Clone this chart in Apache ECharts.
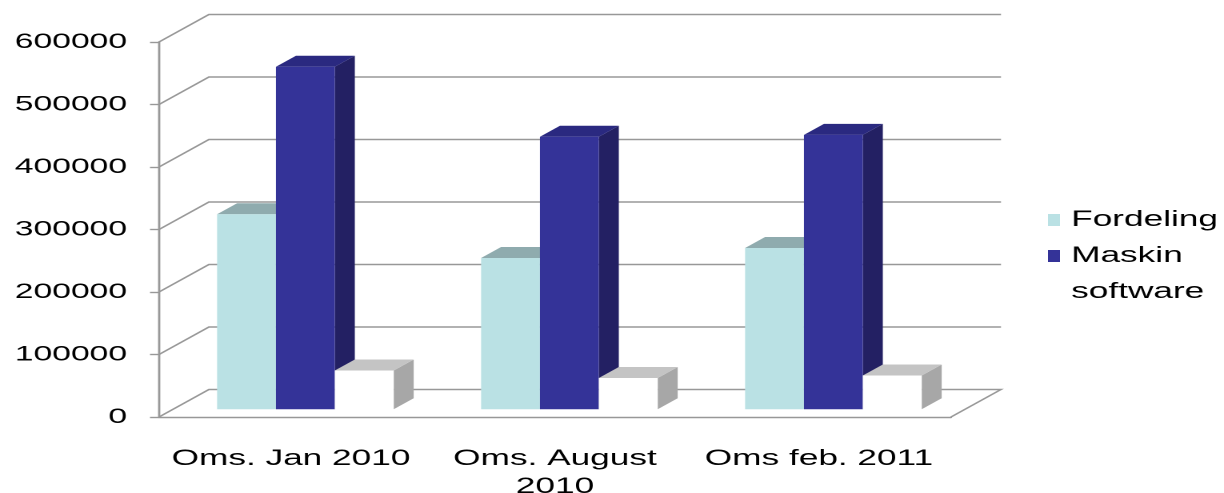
<!DOCTYPE html>
<html>
<head>
<meta charset="utf-8">
<script src="https://cdn.jsdelivr.net/npm/echarts@6/dist/echarts.min.js"></script>
<style>
  html, body { margin: 0; padding: 0; background: #fff; overflow: hidden; }
  /* the original picture is a chart stretched sideways, so draw narrow and stretch */
  #chart { width: 765px; height: 493px; transform: scaleX(1.6); transform-origin: 0 0; }
</style>
</head>
<body>
<div id="chart"></div>
<script>
// data
const categories = ['Oms. Jan 2010', 'Oms. August\n2010', 'Oms feb. 2011'];
const fordeling = [312000, 242000, 258000];
const maskin = [548000, 436000, 439000];
const software = [62000, 50000, 54000];
const yTicks = [0, 100000, 200000, 300000, 400000, 500000, 600000];

const SX = 1.6; // horizontal stretch of the page

// fake 3d: back wall offset and bar depth (in unstretched px)
const WALL_DX = 50 / SX, WALL_DY = -27.5;
const BAR_DX0 = 14 / SX, BAR_DY0 = -7.7;   // front face of the bars sits a bit inside the floor
const BAR_DX = 20 / SX, BAR_DY = -11;      // bar depth
const BAR_START = 0.167, BAR_W = 0.223;

const lineColor = '#989898';

function gridRender(params, api) {
  const v = api.value(1);
  const band = api.size([1, 0])[0];
  const p0 = api.coord([0, v]);
  const p2 = api.coord([categories.length - 1, v]);
  const xl = p0[0] - band / 2, xr = p2[0] + band / 2, y = p0[1];
  const pts = [[xl, y], [xl + WALL_DX, y + WALL_DY], [xr + WALL_DX, y + WALL_DY]];
  if (v === 0) pts.push([xr, y]);
  return {
    type: 'polyline',
    shape: { points: pts },
    style: { stroke: lineColor, lineWidth: 1.4, fill: null }
  };
}

function barRender(idx, colors) {
  return function (params, api) {
    const c = api.value(0), v = api.value(1);
    const band = api.size([1, 0])[0];
    const top = api.coord([c, v]);
    const base = api.coord([c, 0]);
    const x0 = top[0] - band / 2 + band * (BAR_START + BAR_W * idx) + BAR_DX0;
    const x1 = x0 + band * BAR_W;
    const yt = top[1] + BAR_DY0, yb = base[1] + BAR_DY0;
    return {
      type: 'group',
      children: [
        { type: 'polygon', shape: { points: [[x1, yt], [x1 + BAR_DX, yt + BAR_DY], [x1 + BAR_DX, yb + BAR_DY], [x1, yb]] },
          style: { fill: colors.side } },
        { type: 'polygon', shape: { points: [[x0, yt], [x0 + BAR_DX, yt + BAR_DY], [x1 + BAR_DX, yt + BAR_DY], [x1, yt]] },
          style: { fill: colors.top } },
        { type: 'rect', shape: { x: x0, y: yt, width: x1 - x0, height: yb - yt },
          style: { fill: colors.front } }
      ]
    };
  };
}

const barColors = [
  { front: '#BAE1E4', top: '#8FABAE', side: '#8FABAE' },
  { front: '#343398', top: '#2A2980', side: '#232063' },
  { front: '#FFFFFF', top: '#C4C4C4', side: '#A7A7A7' }
];
const barData = [fordeling, maskin, software];
const names = ['Fordeling', 'Maskin', 'software'];

const chart = echarts.init(document.getElementById('chart'), null, { devicePixelRatio: 2 });
chart.setOption({
  animation: false,
  textStyle: { fontFamily: 'Liberation Sans, Arial, sans-serif' },
  grid: { left: 159 / SX, right: 273 / SX, top: 42, bottom: 76, outerBoundsMode: 'none' },
  legend: {
    orient: 'vertical',
    left: 1040 / SX,
    top: 204,
    icon: 'rect',
    itemWidth: 12 / SX,
    itemHeight: 12,
    itemGap: 14,
    data: names,
    textStyle: { fontSize: 22, color: '#000', padding: [0, 0, 0, 2] }
  },
  xAxis: {
    type: 'category',
    data: categories,
    axisLine: { lineStyle: { color: lineColor, width: 1.4 } },
    axisTick: { length: 8, lineStyle: { color: lineColor, width: 1.4 } },
    axisLabel: { fontSize: 22, color: '#000', margin: 28, lineHeight: 28, interval: 0 },
    splitLine: { show: false }
  },
  yAxis: {
    type: 'value',
    min: 0,
    max: 600000,
    interval: 100000,
    axisLine: { show: true, lineStyle: { color: lineColor, width: 1.4 } },
    axisTick: { show: true, length: 9 / SX, lineStyle: { color: lineColor, width: 1.4 } },
    axisLabel: { fontSize: 21, color: '#000', margin: 32 / SX, formatter: v => String(v) },
    splitLine: { show: false }
  },
  series: [
    {
      type: 'custom',
      silent: true,
      clip: false,
      renderItem: gridRender,
      data: yTicks.map(v => [0, v]),
      z: 1
    }
  ].concat(barData.map((d, i) => ({
    type: 'custom',
    name: names[i],
    clip: false,
    itemStyle: { color: barColors[i].front },
    renderItem: barRender(i, barColors[i]),
    data: d.map((v, c) => [c, v]),
    z: 2 + i
  })))
});
</script>
</body>
</html>
